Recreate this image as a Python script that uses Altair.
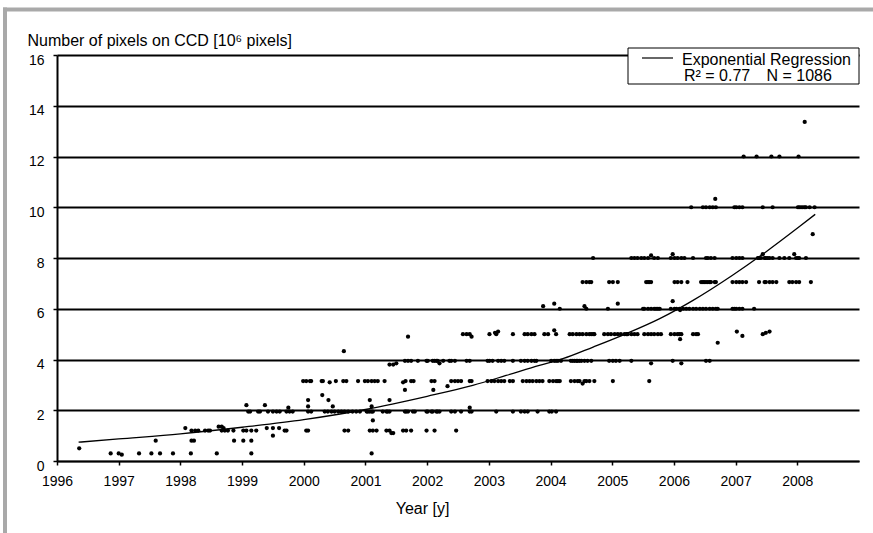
import altair as alt
import pandas as pd

# ---------------- data ----------------
# scatter points grouped by the horizontal "resolution" bands (value in 10^6 pixels)
band_values = [0.3, 0.8, 1.2, 1.95, 3.15, 3.95, 5.0, 6.0, 7.05, 8.0, 10.0, 12.0]

yrs_0_3 = [1996.87, 1997.0, 1997.33, 1997.53, 1997.67, 1997.88, 1998.17, 1998.59, 1999.15, 2001.1]
yrs_0_8 = [1997.6, 1998.18, 1998.22, 1998.87, 1999.02, 1999.15]
yrs_1_2 = [1998.18, 1998.24, 1998.29, 1998.4, 1998.45, 1998.48, 1998.67, 1998.72, 1998.77, 1998.86,
           1999.02, 1999.07, 1999.15, 1999.23, 1999.69, 1999.72, 2000.04, 2000.07, 2000.66, 2000.72,
           2001.07, 2001.12, 2001.18, 2001.34, 2001.39, 2001.61, 2001.66, 2001.74, 2001.99, 2002.12,
           2002.47]
yrs_2_0 = [1999.1, 1999.13, 1999.26, 1999.29, 1999.42, 1999.5, 1999.56, 1999.61, 1999.72, 1999.77,
           1999.82, 2000.07, 2000.12, 2000.34, 2000.39, 2000.45, 2000.5, 2000.56, 2000.61, 2000.66,
           2000.72, 2000.79, 2000.85, 2000.91, 2001.02, 2001.04, 2001.07, 2001.1, 2001.12, 2001.28,
           2001.34, 2001.36, 2001.39, 2001.64, 2001.66, 2001.69, 2001.77, 2001.8, 2001.99, 2002.01,
           2002.07, 2002.09, 2002.15, 2002.17, 2002.2, 2002.39, 2002.45, 2002.55, 2002.69, 2002.72,
           2003.12, 2003.39, 2003.52, 2003.58, 2003.63, 2003.79, 2003.98, 2004.02, 2004.09]
yrs_3_2 = [1999.99, 2000.04, 2000.1, 2000.12, 2000.29, 2000.31, 2000.52, 2000.64, 2000.69, 2000.88,
           2000.99, 2001.04, 2001.1, 2001.15, 2001.2, 2001.31, 2001.65, 2001.74, 2001.78, 2002.07,
           2002.12, 2002.39, 2002.45, 2002.5, 2002.55, 2002.69, 2002.72, 2002.98, 2003.04, 2003.09,
           2003.15, 2003.2, 2003.25, 2003.34, 2003.39, 2003.55, 2003.61, 2003.66, 2003.71, 2003.77,
           2003.82, 2003.87, 2003.98, 2004.04, 2004.09, 2004.12, 2004.15, 2004.33, 2004.39, 2004.44,
           2004.47, 2004.55, 2004.58, 2004.63, 2004.71, 2005.01, 2005.6]
yrs_4_0 = [2001.64, 2001.69, 2001.74, 2001.85, 2001.99, 2002.01, 2002.09, 2002.12, 2002.15, 2002.17,
           2002.26, 2002.36, 2002.39, 2002.45, 2002.64, 2002.69, 2002.98, 2003.01, 2003.06, 2003.15,
           2003.2, 2003.25, 2003.39, 2003.52, 2003.58, 2003.63, 2003.69, 2003.74, 2003.77, 2004.01,
           2004.06, 2004.09, 2004.12, 2004.17, 2004.33, 2004.36, 2004.39, 2004.42, 2004.44, 2004.47,
           2004.5, 2004.55, 2004.6, 2004.66, 2004.95, 2005.01, 2005.06, 2005.12, 2005.31, 2005.98,
           2006.52, 2006.58]
yrs_5_0 = [2002.58, 2002.64, 2002.69, 2003.01, 2003.12, 2003.39, 2003.58, 2003.63, 2003.69, 2003.74,
           2003.9, 2003.96, 2004.09, 2004.31, 2004.36, 2004.42, 2004.47, 2004.52, 2004.58, 2004.63,
           2004.66, 2004.69, 2004.71, 2004.87, 2004.93, 2004.98, 2005.04, 2005.09, 2005.14, 2005.2,
           2005.23, 2005.25, 2005.31, 2005.36, 2005.41, 2005.52, 2005.58, 2005.63, 2005.68, 2005.74,
           2005.79, 2005.95, 2006.01, 2006.06, 2006.09, 2006.12, 2006.31, 2006.36, 2006.39, 2007.44]
yrs_6_0 = [2004.15, 2004.58, 2004.93, 2005.5, 2005.52, 2005.58, 2005.63, 2005.68, 2005.71, 2005.74,
           2005.77, 2005.95, 2006.01, 2006.04, 2006.09, 2006.15, 2006.2, 2006.25, 2006.31, 2006.36,
           2006.42, 2006.47, 2006.52, 2006.58, 2006.63, 2006.68, 2006.71, 2006.95, 2006.98, 2007.01,
           2007.06, 2007.11, 2007.3]
yrs_7_0 = [2004.52, 2004.58, 2004.63, 2004.66, 2004.95, 2005.01, 2005.09, 2005.55, 2005.58, 2005.6,
           2005.63, 2006.01, 2006.06, 2006.12, 2006.22, 2006.44, 2006.47, 2006.49, 2006.52, 2006.55,
           2006.58, 2006.6, 2006.66, 2006.68, 2006.95, 2007.01, 2007.06, 2007.11, 2007.17, 2007.38,
           2007.47, 2007.49, 2007.55, 2007.6, 2007.66, 2007.87, 2007.92, 2007.98, 2008.03, 2008.22]
yrs_8_0 = [2004.69, 2005.31, 2005.36, 2005.41, 2005.47, 2005.52, 2005.58, 2005.68, 2005.74, 2005.95,
           2006.01, 2006.06, 2006.12, 2006.17, 2006.31, 2006.52, 2006.55, 2006.6, 2006.66, 2006.95,
           2007.01, 2007.06, 2007.11, 2007.36, 2007.38, 2007.41, 2007.47, 2007.49, 2007.52, 2007.55,
           2007.6, 2007.71, 2007.79, 2007.87, 2007.98, 2008.01, 2008.03, 2008.14]
yrs_10_0 = [2006.28, 2006.47, 2006.52, 2006.58, 2006.63, 2006.68, 2006.98, 2007.01, 2007.06, 2007.11,
            2007.44, 2007.6, 2008.01, 2008.03, 2008.06, 2008.09, 2008.12, 2008.14, 2008.2, 2008.28]
yrs_12_0 = [2007.13, 2007.34, 2007.58, 2007.71, 2008.02]

# points lying off the main bands
extra_years = [1996.36, 1997.05, 1999.5, 1998.08, 1998.62, 1998.67, 1998.7, 1999.4, 1999.5, 1999.6,
               2001.42, 2001.45, 2001.12, 1999.07, 1999.37, 1999.75, 2000.07, 2000.07, 2000.3, 2000.4,
               2000.47, 2001.07, 2001.1, 2001.39, 2001.64, 2002.1, 2002.33, 2002.69, 2000.42, 2001.61,
               2004.52, 2001.39, 2001.45, 2001.5, 2002.2, 2005.63, 2006.12, 2000.65, 2001.69, 2002.72,
               2003.1, 2003.15, 2004.06, 2006.1, 2007.02, 2007.11, 2007.49, 2007.55, 2006.71, 2003.88,
               2004.06, 2004.55, 2005.09, 2005.98, 2006.1, 2005.63, 2005.98, 2007.44, 2007.95, 2008.25,
               2006.67, 2008.12]
extra_values = [0.5, 0.25, 1.0, 1.3, 1.35, 1.35, 1.3, 1.3, 1.3, 1.3,
                1.1, 1.1, 1.6, 2.2, 2.2, 2.1, 2.15, 2.4, 2.6, 2.4,
                2.15, 2.4, 2.15, 2.4, 2.8, 2.8, 2.95, 2.1, 3.1, 3.1,
                3.05, 3.8, 3.8, 3.85, 3.85, 3.85, 3.85, 4.33, 4.9, 4.9,
                5.05, 5.1, 5.15, 4.8, 5.1, 4.93, 5.05, 5.1, 4.66, 6.1,
                6.2, 6.1, 6.2, 6.3, 5.95, 8.1, 8.15, 8.15, 8.15, 8.94,
                10.33, 13.36]

# exponential regression curve
curve_years = [1996.35, 1997.0, 1998.0, 1999.0, 2000.0, 2001.0, 2002.0, 2002.74, 2003.28, 2003.82,
               2004.2, 2004.69, 2005.23, 2005.77, 2006.31, 2006.95, 2007.49, 2008.03, 2008.29]
curve_values = [0.74, 0.87, 1.07, 1.33, 1.63, 2.03, 2.55, 2.98, 3.37, 3.77,
                4.03, 4.49, 5.02, 5.61, 6.33, 7.32, 8.24, 9.23, 9.72]

x_ticks = list(range(1996, 2009))
y_ticks = list(range(0, 17, 2))

y_title = "Number of pixels on CCD [10\u2076 pixels]"
x_title = "Year [y]"
legend_line1 = "Exponential Regression"
legend_r2 = "R\u00b2 = 0.77"
legend_n = "N = 1086"

# ---------------- build tables ----------------
band_year_lists = [yrs_0_3, yrs_0_8, yrs_1_2, yrs_2_0, yrs_3_2, yrs_4_0, yrs_5_0,
                   yrs_6_0, yrs_7_0, yrs_8_0, yrs_10_0, yrs_12_0]
rows = []
for val, yl in zip(band_values, band_year_lists):
    for yr in yl:
        rows.append({"year": yr, "pixels": val})
for yr, val in zip(extra_years, extra_values):
    rows.append({"year": yr, "pixels": val})
pts = pd.DataFrame(rows)
curve = pd.DataFrame({"year": curve_years, "pixels": curve_values})

FONT = "Liberation Sans"
W, H = 802, 406
PL, PT = 57, 55

x_scale = alt.Scale(domain=[1996, 2009], nice=False, zero=False)
y_scale = alt.Scale(domain=[0, 16], nice=False)

x_axis = alt.Axis(values=x_ticks, format="d", grid=False, title=x_title, labelFlush=False,
                  labelFont=FONT, labelFontSize=14, labelColor="black",
                  titleFont=FONT, titleFontSize=16, titleColor="black", titleFontWeight="normal",
                  titleX=365, titleY=52, titleBaseline="alphabetic",
                  titleAlign="center", labelPadding=9, tickSize=4,
                  domainColor="black", domainWidth=1.5, tickColor="black", tickWidth=1.5)
y_axis = alt.Axis(values=y_ticks, grid=True, title=y_title, titleAngle=0, labelFlush=False,
                  labelFont=FONT, labelFontSize=14, labelColor="black",
                  titleFont=FONT, titleFontSize=16, titleColor="black", titleFontWeight="normal",
                  titleX=-30, titleY=-10, titleAlign="left", titleBaseline="alphabetic",
                  labelPadding=9, labelOffset=5, labelBaseline="middle", tickSize=4,
                  domainColor="black", domainWidth=2, tickColor="black", tickWidth=1.5,
                  gridColor="black", gridWidth=2, gridOpacity=1)

scatter = alt.Chart(pts).mark_circle(size=18, color="black", opacity=1).encode(
    x=alt.X("year:Q", scale=x_scale, axis=x_axis),
    y=alt.Y("pixels:Q", scale=y_scale, axis=y_axis),
)

line = alt.Chart(curve).mark_line(color="black", strokeWidth=1.3, interpolate="monotone").encode(
    x=alt.X("year:Q", scale=x_scale),
    y=alt.Y("pixels:Q", scale=y_scale),
)

one = alt.Data(values=[{"a": 1}])

legend_box = alt.Chart(one).mark_rect(fill="white", stroke="black", strokeWidth=1).encode(
    x=alt.value(571), x2=alt.value(802), y=alt.value(-7), y2=alt.value(29))
legend_sym = alt.Chart(one).mark_rule(color="black", strokeWidth=1.2).encode(
    x=alt.value(585), x2=alt.value(616), y=alt.value(3))
legend_t1 = alt.Chart(one).mark_text(text=legend_line1, font=FONT, fontSize=16, align="left",
                                     baseline="alphabetic", color="black").encode(
    x=alt.value(625), y=alt.value(10))
legend_t2 = alt.Chart(one).mark_text(text=legend_r2, font=FONT, fontSize=16, align="left",
                                     baseline="alphabetic", color="black").encode(
    x=alt.value(627), y=alt.value(25.5))
legend_t3 = alt.Chart(one).mark_text(text=legend_n, font=FONT, fontSize=16, align="left",
                                     baseline="alphabetic", color="black").encode(
    x=alt.value(709.5), y=alt.value(25.5))

frame_top = alt.Chart(one).mark_rule(color="#a9a9a9", strokeWidth=4).encode(
    x=alt.value(-PL + 3), x2=alt.value(873 - PL + 5), y=alt.value(9.5 - PT))
frame_left = alt.Chart(one).mark_rule(color="#a9a9a9", strokeWidth=4).encode(
    x=alt.value(5 - PL), y=alt.value(7.5 - PT), y2=alt.value(533 - PT + 5))

chart = alt.layer(
    scatter, line, legend_box, legend_sym, legend_t1, legend_t2, legend_t3, frame_top, frame_left
).properties(
    width=W, height=H,
    autosize=alt.AutoSizeParams(type="none"),
    padding={"left": PL, "top": PT, "right": 873 - PL - W, "bottom": 533 - PT - H},
    background="white",
).configure_view(
    strokeWidth=0
)

chart.save("out.html", embed_options={"renderer": "svg", "actions": False})
